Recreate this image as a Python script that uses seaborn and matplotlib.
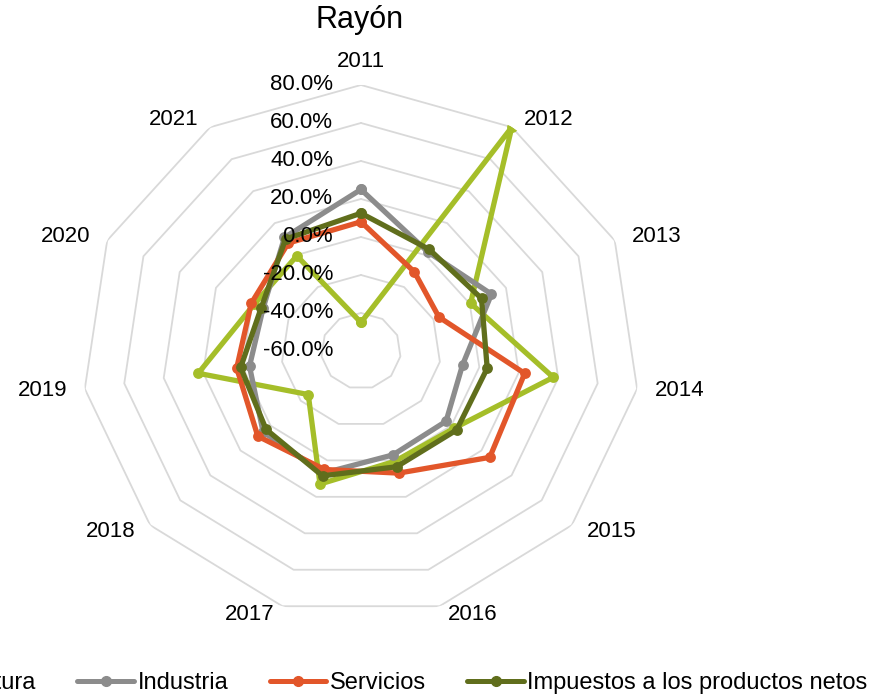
import numpy as np
import pandas as pd
import matplotlib
matplotlib.use("Agg")
import matplotlib.pyplot as plt
from matplotlib.lines import Line2D
import seaborn as sns

# Datos (tasas de variación, en %)
years = ["2011", "2012", "2013", "2014", "2015", "2016", "2017", "2018", "2019", "2020", "2021"]
agricultura = [-45, 80, 0.5, 37.5, 2, 0.5, 13, -25, 22.5, -1, -0.5]
industria = [25, 2, 12, -8.5, -3.5, -3, 7, 5, -3.5, -6, 11]
servicios = [8, -10.5, -17, 23, 25.5, 7, 5, 8.5, 3, 0.5, 7.5]
impuestos = [12.5, 3.5, 6.5, 4, 3.5, 3.5, 8.5, 3, 1, -5, 10]

series_names = ["Agricultura", "Industria", "Servicios", "Impuestos a los productos netos"]
colors = ["#A5BE29", "#8C8C8C", "#E2562A", "#606E1C"]
ticks = [-60, -40, -20, 0, 20, 40, 60, 80]

sns.set_theme(style="white")
plt.rcParams["font.family"] = ["Liberation Sans", "DejaVu Sans"]
plt.rcParams["text.color"] = "black"

n = len(years)
angles = np.linspace(0, 2 * np.pi, n, endpoint=False)
closed = np.append(angles, 2 * np.pi)

rows = []
for name, vals in zip(series_names, [agricultura, industria, servicios, impuestos]):
    for a, v in zip(closed, vals + vals[:1]):
        rows.append({"angulo": a, "valor": v, "serie": name})
df = pd.DataFrame(rows)

fig = plt.figure(figsize=(8.72, 7), dpi=100)
ax = fig.add_axes([0.0940, 0.1186, 0.6399, 0.76], projection="polar")
ax.set_aspect("auto")
ax.set_theta_zero_location("N")
ax.set_theta_direction(-1)

# anillos poligonales
for t in ticks[1:]:
    ax.plot(closed, [t] * len(closed), color="#D9D9D9", lw=1.3, zorder=0)

sns.lineplot(data=df, x="angulo", y="valor", hue="serie", palette=colors,
             sort=False, estimator=None, marker="o", markersize=7.8,
             markeredgewidth=0, linewidth=3.8, ax=ax, legend=False)

ax.set_ylim(-60, 80)
ax.set_yticks([])
ax.set_xticks([])
ax.grid(False)
ax.spines["polar"].set_visible(False)
ax.set_xlabel("")
ax.set_ylabel("")

# etiquetas de categoría
for a, lab in zip(angles, years):
    s, c = np.sin(a), np.cos(a)
    if abs(s) < 0.01:
        ax.annotate(lab, xy=(a, 80), xytext=(0, 9), textcoords="offset points",
                    ha="center", va="bottom", fontsize=16, color="black")
    else:
        sign = 1 if s > 0 else -1
        ax.annotate(lab, xy=(a, 80), xytext=(sign * (3 + 10 * abs(s)), 6.5 * c),
                    textcoords="offset points", ha="left" if s > 0 else "right",
                    va="center", fontsize=16, color="black")

for t in ticks:
    ax.annotate(f"{t:.1f}%", xy=(0, t), xytext=(-20, 0), textcoords="offset points",
                ha="right", va="center", fontsize=16, color="black")

fig.text(360 / 872, 1 - 20 / 700, "Rayón", ha="center", va="center", fontsize=22,
         color="black")

handles = [Line2D([], [], color=c, lw=3.6, marker="o", markersize=7) for c in colors]
leg = fig.legend(handles, series_names, loc="center right", bbox_to_anchor=(0.995, 0.024),
                 ncol=4, frameon=False, fontsize=17, handlelength=2.4, handletextpad=0.15,
                 columnspacing=1.75, borderpad=0, borderaxespad=0)
for txt in leg.get_texts():
    txt.set_color("black")

fig.savefig("out.png", dpi=100)
